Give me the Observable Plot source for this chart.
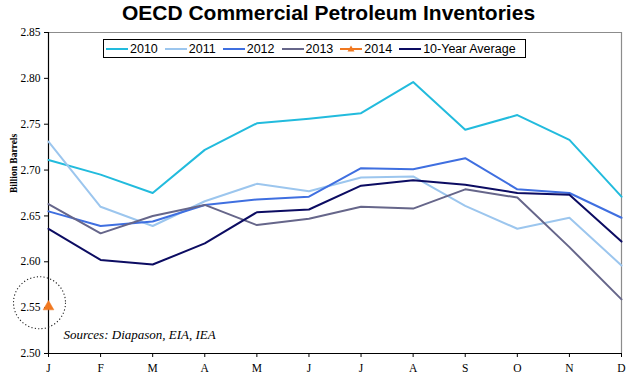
<!DOCTYPE html>
<html><head><meta charset="utf-8">
<script src="https://cdn.jsdelivr.net/npm/d3@7"></script>
<script src="https://cdn.jsdelivr.net/npm/@observablehq/plot@0.6"></script>
<style>
body{margin:0;background:#fff;}
#wrap{position:relative;width:639px;height:384px;overflow:hidden;}
#title{position:absolute;left:328.5px;top:1px;transform:translateX(-50%);white-space:nowrap;font:bold 21px "Liberation Sans",Arial,sans-serif;color:#000;}
#legend{position:absolute;left:103px;top:39px;width:423px;height:19px;box-sizing:border-box;border:1px solid #000;background:#fff;display:flex;align-items:center;padding-left:2px;font:12.5px "Liberation Sans",Arial,sans-serif;color:#000;z-index:2;white-space:nowrap;}
.item{display:flex;align-items:center;margin-right:7px;flex:none;}
.item svg{margin-right:2px;}
#chart{position:absolute;left:0;top:0;}
</style></head><body>
<div id="wrap">
<div id="chart"></div>
<div id="title">OECD Commercial Petroleum Inventories</div>
<div id="legend"></div>
</div>
<script>
const months = ["J","F","M","A","M","J","J","A","S","O","N","D"];
const yTicks = [2.50,2.55,2.60,2.65,2.70,2.75,2.80,2.85];
const seriesNames = ["2010","2011","2012","2013","2014","10-Year Average"];
const seriesColors = ["#22bbdd","#9cc6ee","#3f6fe0","#66668a","#f07820","#0c0c62"];
const v2010 = [2.711,2.695,2.675,2.722,2.751,2.756,2.762,2.796,2.744,2.760,2.733,2.671];
const v2011 = [2.731,2.660,2.639,2.666,2.685,2.677,2.692,2.693,2.661,2.636,2.648,2.596];
const v2012 = [2.655,2.639,2.644,2.662,2.668,2.671,2.702,2.701,2.713,2.679,2.675,2.648];
const v2013 = [2.663,2.631,2.650,2.662,2.640,2.647,2.660,2.658,2.679,2.670,2.616,2.559];
const v2014 = [2.551];
const vAvg  = [2.636,2.602,2.597,2.620,2.654,2.657,2.683,2.689,2.684,2.675,2.673,2.622];
const sources = "Sources: Diapason, EIA, IEA";
const yLabel = "Billion Barrels";

const allValues = [v2010,v2011,v2012,v2013,v2014,vAvg];
const data = [];
allValues.forEach((vals,k)=>vals.forEach((v,i)=>data.push({series:seriesNames[k], i, v})));
const lineData = data.filter(d=>d.series!=="2014");
const pt2014 = data.filter(d=>d.series==="2014");

const serif = "'Liberation Serif','Times New Roman',serif";
const chart = Plot.plot({
  width:639, height:384,
  marginLeft:48, marginRight:18, marginTop:32, marginBottom:31,
  style:{fontFamily:serif, fontSize:"11.5px", background:"transparent", color:"#000"},
  x:{domain:[0,11]},
  y:{domain:[2.5,2.85]},
  color:{domain:seriesNames, range:seriesColors},
  marks:[
    Plot.ruleY([2.85],{stroke:"#8c8c8c", strokeWidth:1.2}),
    Plot.ruleX([11],{stroke:"#8c8c8c", strokeWidth:1.2}),
    Plot.axisY({ticks:yTicks, tickFormat:d=>d.toFixed(2), tickSize:4, tickPadding:4, label:null, stroke:"#000", strokeOpacity:1, fontSize:11.5, fontFamily:serif}),
    Plot.axisX({ticks:d3.range(12), tickFormat:i=>months[i], tickSize:4, tickPadding:6, label:null, stroke:"#000", strokeOpacity:1, fontSize:11.5, fontFamily:serif}),
    Plot.ruleX([0],{stroke:"#000", strokeWidth:1.2}),
    Plot.ruleY([2.5],{stroke:"#000", strokeWidth:1.2}),
    Plot.lineY(lineData,{x:"i", y:"v", z:"series", stroke:"series", strokeWidth:2}),
    Plot.dot(pt2014,{x:"i", y:"v", symbol:"triangle", r:4, fill:"#f07820", stroke:"#f07820", strokeWidth:0.5}),
    Plot.dot(pt2014,{x:"i", y:"v", r:26, dx:-9, dy:-4, stroke:"#222", strokeWidth:1.1, strokeDasharray:"1.2,2.2", fill:"none"}),
    Plot.text([sources],{frameAnchor:"bottom-left", dx:15, dy:-15, textAnchor:"start", fontStyle:"italic", fontSize:13, fontFamily:serif}),
    Plot.text([yLabel],{frameAnchor:"left", rotate:-90, dx:-35, fontWeight:"bold", fontSize:9.5, fontFamily:serif})
  ]
});
document.getElementById("chart").appendChild(chart);

const legend = document.getElementById("legend");
seriesNames.forEach((name,k)=>{
  const it = document.createElement("div");
  it.className = "item";
  const ns = "http://www.w3.org/2000/svg";
  const svg = document.createElementNS(ns,"svg");
  svg.setAttribute("width","22"); svg.setAttribute("height","10");
  const ln = document.createElementNS(ns,"line");
  ln.setAttribute("x1","0"); ln.setAttribute("x2","22"); ln.setAttribute("y1","5"); ln.setAttribute("y2","5");
  ln.setAttribute("stroke",seriesColors[k]); ln.setAttribute("stroke-width","2");
  svg.appendChild(ln);
  if(name==="2014"){
    const tri = document.createElementNS(ns,"path");
    tri.setAttribute("d","M11,1.5 L14.5,7.5 L7.5,7.5 Z");
    tri.setAttribute("fill",seriesColors[k]);
    svg.appendChild(tri);
  }
  it.appendChild(svg);
  const sp = document.createElement("span");
  sp.textContent = name;
  it.appendChild(sp);
  legend.appendChild(it);
});
</script>
</body></html>
